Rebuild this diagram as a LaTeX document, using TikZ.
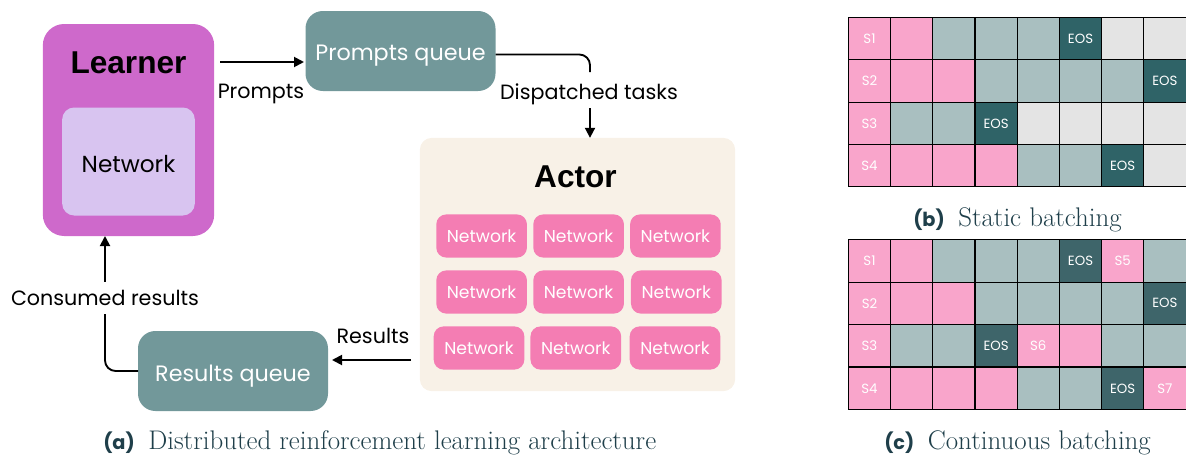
\documentclass[tikz,border=0pt]{standalone}
\usepackage{fontspec}
\setsansfont{Poppins}
\newfontfamily\titlefont{Liberation Sans}
\usetikzlibrary{arrows.meta}
\definecolor{capcol}{HTML}{1F3F4A}
\definecolor{learnerc}{HTML}{CE69CB}
\definecolor{netc}{HTML}{D8C4F0}
\definecolor{queuec}{HTML}{72989A}
\definecolor{actorc}{HTML}{F8F1E7}
\definecolor{pinkc}{HTML}{F47DB3}
\definecolor{cellp}{HTML}{F9A5CB}
\definecolor{cellg}{HTML}{A9BFC0}
\definecolor{celld}{HTML}{2F6367}
\definecolor{celld2}{HTML}{3E656A}
\definecolor{celle}{HTML}{E4E4E4}
\tikzset{
  x=0.75pt,y=-0.75pt,
  box/.style={rounded corners=#1,inner sep=0pt,outer sep=0pt},
  lbl/.style={font=\sffamily\fontsize{15.5}{20}\selectfont,text=black,inner sep=0pt},
  qlbl/.style={font=\sffamily\fontsize{16.7}{20}\selectfont,text=white,inner sep=0pt},
  ttl/.style={font=\titlefont\bfseries\fontsize{23.7}{28}\selectfont,text=black,inner sep=0pt},
  conn/.style={line width=1.4pt,-{Triangle[length=7.5pt,width=7.5pt]}},
  labelw/.style={lbl,fill=white,inner xsep=1pt,inner ysep=6pt},
  netbox/.style={box=7.5pt,fill=pinkc,minimum width=68pt,minimum height=32.4pt,
    text=white,font=\sffamily\fontsize{12.9}{16}\selectfont},
  capt/.style={text=capcol,font=\fontsize{20.2}{24}\selectfont,inner sep=0pt},
  gridcell/.style={draw=black,line width=0.8pt,minimum width=31.7pt,minimum height=31.8pt,inner sep=0pt,outer sep=0pt,
    text=white,font=\sffamily\fontsize{10}{11}\selectfont},
  pc/.style={gridcell,fill=cellp},
  gc/.style={gridcell,fill=cellg},
  dc/.style={gridcell,fill=celld},
  dd/.style={gridcell,fill=celld2},
  ec/.style={gridcell,fill=celle},
}
\newcommand{\capl}[1]{{\sffamily\fontsize{14.5}{18}\selectfont\bfseries #1}}
\begin{document}
\begin{tikzpicture}
\useasboundingbox (0,0) rectangle (1186,454);
% Learner
\node[box=16pt,fill=learnerc,minimum width=128.5pt,minimum height=159pt] (learner) at (128.5,130) {};
\node[box=9pt,fill=netc,minimum width=99.5pt,minimum height=81pt] (lnet) at (128.5,161.5) {};
\node[lbl,font=\sffamily\fontsize{17.4}{20}\selectfont] at (128.5,164) {Network};
\node[ttl] (ltitle) at (128.5,63) {Learner};
% Queues
\node[box=13pt,fill=queuec,minimum width=142.5pt,minimum height=60pt] (pq) at (400.5,51) {};
\node[qlbl] at (400.5,56) {Prompts queue};
\node[box=13pt,fill=queuec,minimum width=142.5pt,minimum height=60pt] (rq) at (233,371) {};
\node[qlbl] at (233,376) {Results queue};
% Actor
\node[box=9pt,fill=actorc,minimum width=236.5pt,minimum height=190pt] (actor) at (577.5,264.5) {};
\node[ttl] at (575.5,177) {Actor};
\node[netbox] (n11) at (481.6,236) {Network};
\node[netbox] (n12) at (578.6,236) {Network};
\node[netbox] (n13) at (675.4,236) {Network};
\node[netbox] (n21) at (481.6,292) {Network};
\node[netbox] (n22) at (578.6,292) {Network};
\node[netbox] (n23) at (676.3,292) {Network};
\node[netbox] (n31) at (479,348) {Network};
\node[netbox] (n32) at (575.8,348) {Network};
\node[netbox] (n33) at (675,348) {Network};
% Connectors
\coordinate (pstart) at (220,62);
\coordinate (pend) at (304,62);
\draw[conn] (pstart) -- (pend);
\node[lbl] (plabel) at (261,94) {Prompts};
\coordinate (dturn) at (590,54.5);
\draw[line width=1.4pt,rounded corners=8pt] (pq.east |- dturn) -- (dturn) -- (590,72);
\node[lbl] (dlabel) at (589,94) {Dispatched tasks};
\coordinate (dstart) at (590,108);
\draw[conn] (dstart) -- (dstart |- actor.north);
\coordinate (rstart) at (411,360);
\coordinate (rend) at (332,360);
\draw[conn] (rstart) -- (rend);
\node[lbl] (rlabel) at (373,336) {Results};
\coordinate (cturn) at (105,371);
\draw[conn,rounded corners=8pt] (rq.west |- cturn) -- (cturn) -- (105,236);
\node[labelw] (clabel) at (105,298) {Consumed results};
% Captions
\node[capt,anchor=base west] at (103,449) {\capl{(a)}\hspace{0.5em}Distributed reinforcement learning architecture};
\node[capt,anchor=base west] at (913,226) {\capl{(b)}\hspace{0.5em}Static batching};
\node[capt,anchor=base west] at (884,449) {\capl{(c)}\hspace{0.5em}Continuous batching};
% Grid b
\foreach \k/\s [count=\i] in {pc/S1,pc/,gc/,gc/,gc/,dc/EOS,ec/,ec/}
  \node[\k] (ba\i) at (869.5+42.2*\i-42.2,38.8) {\s};
\foreach \k/\s [count=\i] in {pc/S2,pc/,pc/,gc/,gc/,gc/,gc/,dc/EOS}
  \node[\k] (bb\i) at (869.5+42.2*\i-42.2,81.1) {\s};
\foreach \k/\s [count=\i] in {pc/S3,gc/,gc/,dc/EOS,ec/,ec/,ec/,ec/}
  \node[\k] (bc\i) at (869.5+42.2*\i-42.2,123.4) {\s};
\foreach \k/\s [count=\i] in {pc/S4,pc/,pc/,pc/,gc/,gc/,dc/EOS,ec/}
  \node[\k] (bd\i) at (869.5+42.2*\i-42.2,165.7) {\s};
% Grid c
\foreach \k/\s [count=\i] in {pc/S1,pc/,gc/,gc/,gc/,dd/EOS,pc/S5,gc/}
  \node[\k] (ca\i) at (869.5+42.2*\i-42.2,261) {\s};
\foreach \k/\s [count=\i] in {pc/S2,pc/,pc/,gc/,gc/,gc/,gc/,dd/EOS}
  \node[\k] (cb\i) at (869.5+42.2*\i-42.2,303.3) {\s};
\foreach \k/\s [count=\i] in {pc/S3,gc/,gc/,dd/EOS,pc/S6,pc/,gc/,gc/}
  \node[\k] (cc\i) at (869.5+42.2*\i-42.2,345.6) {\s};
\foreach \k/\s [count=\i] in {pc/S4,pc/,pc/,pc/,gc/,gc/,dd/EOS,pc/S7}
  \node[\k] (cd\i) at (869.5+42.2*\i-42.2,388.4) {\s};
\end{tikzpicture}
\end{document}
